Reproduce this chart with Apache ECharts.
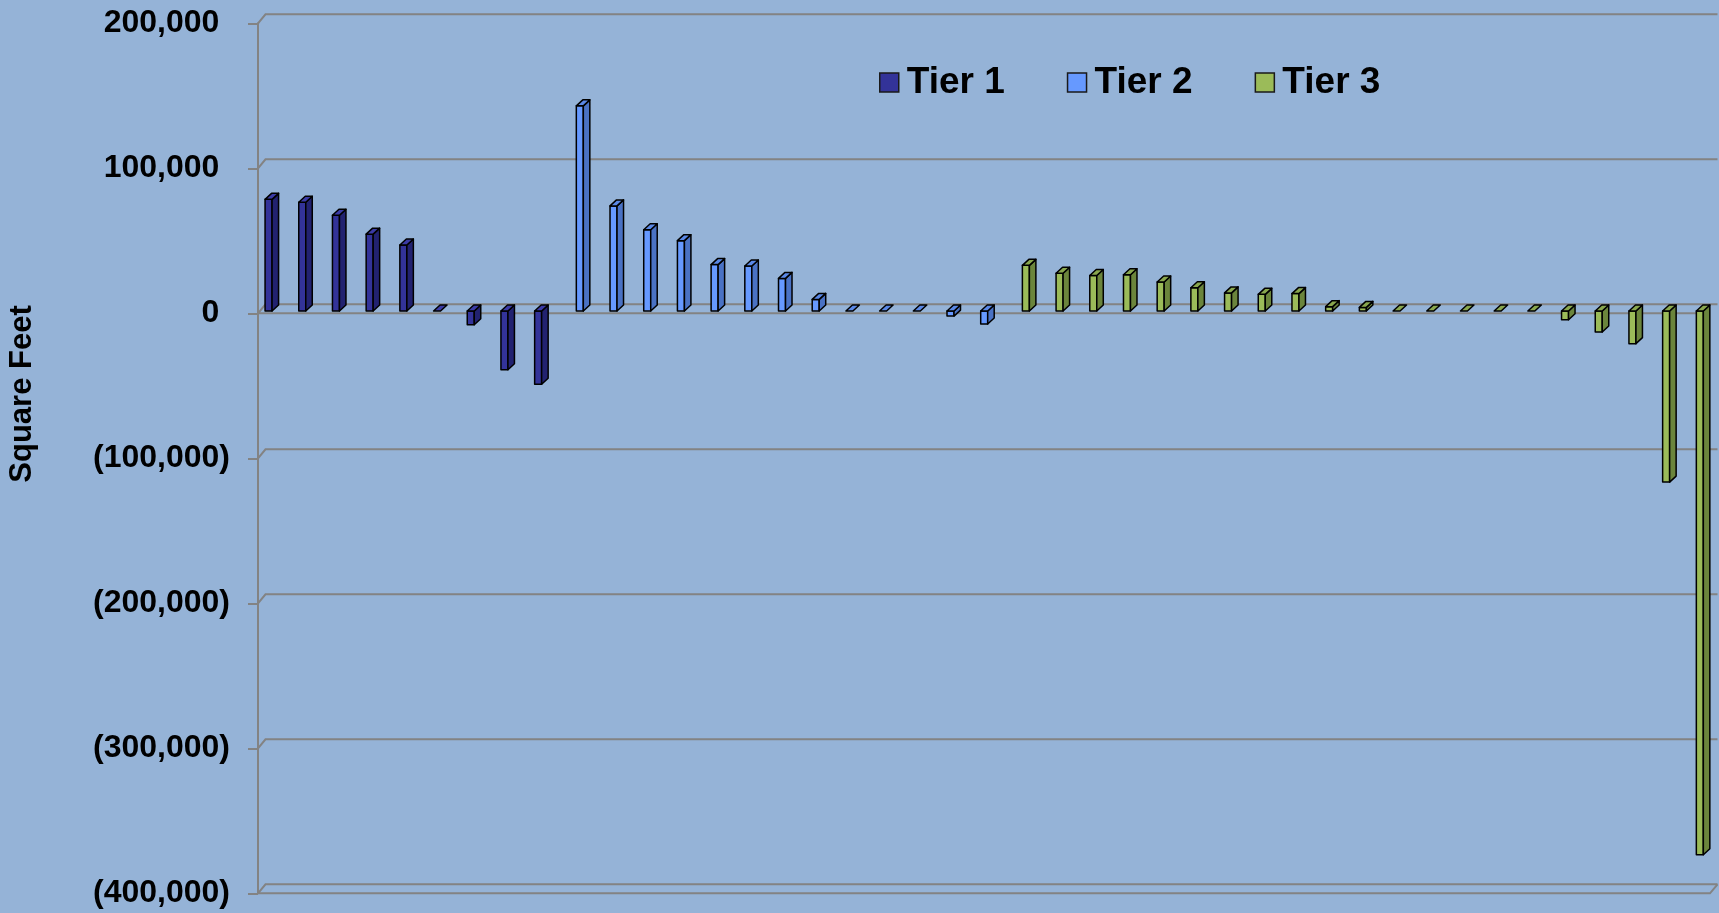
<!DOCTYPE html>
<html>
<head>
<meta charset="utf-8">
<title>Square Feet by Tier</title>
<script src="https://cdn.jsdelivr.net/npm/echarts@6/dist/echarts.min.js"></script>
<style>
  html, body { margin: 0; padding: 0; background: #95b3d7; }
  #chart { width: 1719px; height: 913px; }
</style>
</head>
<body>
<div id="chart"></div>
<script>
// ---- data ----
const categories = [
  'T1-01', 'T1-02', 'T1-03', 'T1-04', 'T1-05', 'T1-06', 'T1-07', 'T1-08', 'T1-09',
  'T2-01', 'T2-02', 'T2-03', 'T2-04', 'T2-05', 'T2-06', 'T2-07', 'T2-08', 'T2-09',
  'T2-10', 'T2-11', 'T2-12', 'T2-13',
  'T3-01', 'T3-02', 'T3-03', 'T3-04', 'T3-05', 'T3-06', 'T3-07', 'T3-08', 'T3-09',
  'T3-10', 'T3-11', 'T3-12', 'T3-13', 'T3-14', 'T3-15', 'T3-16', 'T3-17', 'T3-18',
  'T3-19', 'T3-20', 'T3-21'
];
const tierNames = ['Tier 1', 'Tier 2', 'Tier 3'];
const tier1Values = [77000, 75000, 66000, 53000, 45500, 0, -9500, -40500, -50500];
const tier2Values = [141500, 72500, 56000, 48500, 32000, 31000, 22500, 8000, 0, 0, 0, -3500, -9000];
const tier3Values = [31500, 26000, 24500, 25000, 20000, 16000, 12500, 11500, 12000, 3000, 2500,
  0, 0, 0, 0, 0, -6000, -14500, -22500, -118000, -375000];
const yTickValues = [200000, 100000, 0, -100000, -200000, -300000, -400000];
const yTickLabels = ['200,000', '100,000', '0', '(100,000)', '(200,000)', '(300,000)', '(400,000)'];
const axisTitle = 'Square Feet';

// ---- styling ----
const FONT = '"Liberation Sans", Arial, Helvetica, sans-serif';
const GRID_COLOR = '#838383';
const tierColors = [
  { front: '#333399', side: '#222270', top: '#3b3ba6' },
  { front: '#6699ff', side: '#4a72c4', top: '#5a88e6' },
  { front: '#9bbb59', side: '#6b853c', top: '#89a74e' }
];
// wall / floor depth offset and bar prism geometry (pixels)
const WALL_DX = 7.5, WALL_DY = -9;
const BAR_W = 7, BAR_DX = 6.5, BAR_DY = -6;
const BAR_SHIFT_X = 1.7, BAR_SHIFT_Y = -2.3;
const SLOT_FRACTION = 0.237;

// category index offsets for each tier
const tierValues = [tier1Values, tier2Values, tier3Values];
let start = 0;
const tierData = tierValues.map(vals => {
  const d = vals.map((v, k) => [start + k, v]);
  start += vals.length;
  return d;
});

function makeBarRenderer(slot, col) {
  return function (params, api) {
    const idx = api.value(0);
    const v = api.value(1);
    const p0 = api.coord([idx, 0]);
    const p1 = api.coord([idx, v]);
    const catW = api.size([1, 0])[0];
    const slotW = catW * SLOT_FRACTION;
    const x = p0[0] + (slot - 1) * slotW - BAR_W / 2 + BAR_SHIFT_X;
    const yA = p0[1] + BAR_SHIFT_Y;
    const yB = p1[1] + BAR_SHIFT_Y;
    const yTop = Math.min(yA, yB);
    const yBot = Math.max(yA, yB);
    const stroke = { stroke: '#000', lineWidth: 1.5, lineJoin: 'round' };
    const children = [];
    if (yBot - yTop > 0.5) {
      children.push({
        type: 'rect',
        shape: { x: x, y: yTop, width: BAR_W, height: yBot - yTop },
        style: Object.assign({ fill: col.front }, stroke)
      });
      children.push({
        type: 'polygon',
        shape: { points: [[x + BAR_W, yTop], [x + BAR_W + BAR_DX, yTop + BAR_DY],
                          [x + BAR_W + BAR_DX, yBot + BAR_DY], [x + BAR_W, yBot]] },
        style: Object.assign({ fill: col.side }, stroke)
      });
    }
    children.push({
      type: 'polygon',
      shape: { points: [[x, yTop], [x + BAR_DX, yTop + BAR_DY],
                        [x + BAR_W + BAR_DX, yTop + BAR_DY], [x + BAR_W, yTop]] },
      style: Object.assign({ fill: col.top }, stroke)
    });
    return { type: 'group', children: children };
  };
}

// walls, floors and gridlines of the 3-D frame
function renderFrame(params, api) {
  const v = api.value(1);
  const y = api.coord([0, v])[1];
  const cs = params.coordSys;
  const L = cs.x;
  const R = cs.x + cs.width + 3;
  const ls = { stroke: GRID_COLOR, lineWidth: 2, fill: null };
  const children = [{
    type: 'polyline',
    shape: { points: [[L, y], [L + WALL_DX, y + WALL_DY], [R + WALL_DX, y + WALL_DY]] },
    style: ls
  }];
  if (v === 0) {
    children.push({ type: 'polyline', shape: { points: [[L, y], [R, y]] }, style: ls });
  }
  if (v === yTickValues[yTickValues.length - 1]) {
    children.push({
      type: 'polyline',
      shape: { points: [[L, y], [R, y], [R + WALL_DX, y + WALL_DY]] },
      style: ls
    });
  }
  return { type: 'group', children: children };
}

const chart = echarts.init(document.getElementById('chart'), null, { renderer: 'canvas' });

const series = [{
  name: 'frame',
  type: 'custom',
  renderItem: renderFrame,
  data: yTickValues.map(v => [0, v]),
  clip: false,
  silent: true,
  z: 1
}];
tierNames.forEach((name, s) => {
  series.push({
    name: name,
    type: 'custom',
    renderItem: makeBarRenderer(s, tierColors[s]),
    data: tierData[s],
    clip: false,
    z: 3,
    itemStyle: { color: tierColors[s].front, borderColor: '#000', borderWidth: 1 }
  });
});

chart.setOption({
  animation: false,
  backgroundColor: '#95b3d7',
  grid: { left: 258, top: 23.3, width: 1449, height: 870 },
  legend: {
    data: tierNames,
    left: 879,
    top: 64,
    padding: 0,
    icon: 'rect',
    itemWidth: 19,
    itemHeight: 19,
    itemGap: 62,
    itemStyle: { borderColor: '#1a1a1a', borderWidth: 1.5 },
    textStyle: { fontFamily: FONT, fontWeight: 'bold', fontSize: 37, color: '#000', padding: [0, 0, 0, 3] }
  },
  xAxis: {
    type: 'category',
    data: categories,
    boundaryGap: true,
    axisLine: { show: false },
    axisTick: { show: false },
    axisLabel: { show: false },
    splitLine: { show: false }
  },
  yAxis: {
    type: 'value',
    min: -400000,
    max: 200000,
    interval: 100000,
    axisLine: { show: true, lineStyle: { color: GRID_COLOR, width: 2 } },
    axisTick: { show: true, length: 10, lineStyle: { color: GRID_COLOR, width: 2 } },
    splitLine: { show: false },
    axisLabel: {
      margin: 28,
      fontFamily: FONT,
      fontWeight: 'bold',
      fontSize: 32,
      color: '#000',
      formatter: function (value) {
        const i = yTickValues.indexOf(value);
        const txt = i >= 0 ? yTickLabels[i] : String(value);
        return value < 0 ? '{n|' + txt + '}' : '{n|' + txt + '}{g|)}';
      },
      rich: {
        n: { fontFamily: FONT, fontWeight: 'bold', fontSize: 32, color: '#000' },
        g: { fontFamily: FONT, fontWeight: 'bold', fontSize: 32, color: 'rgba(0,0,0,0)' }
      }
    }
  },
  graphic: [{
    type: 'text',
    x: 22.5,
    y: 394,
    rotation: Math.PI / 2,
    style: {
      text: axisTitle,
      fill: '#000',
      font: 'bold 31px ' + FONT,
      align: 'center',
      verticalAlign: 'middle'
    }
  }],
  series: series
});
</script>
</body>
</html>
